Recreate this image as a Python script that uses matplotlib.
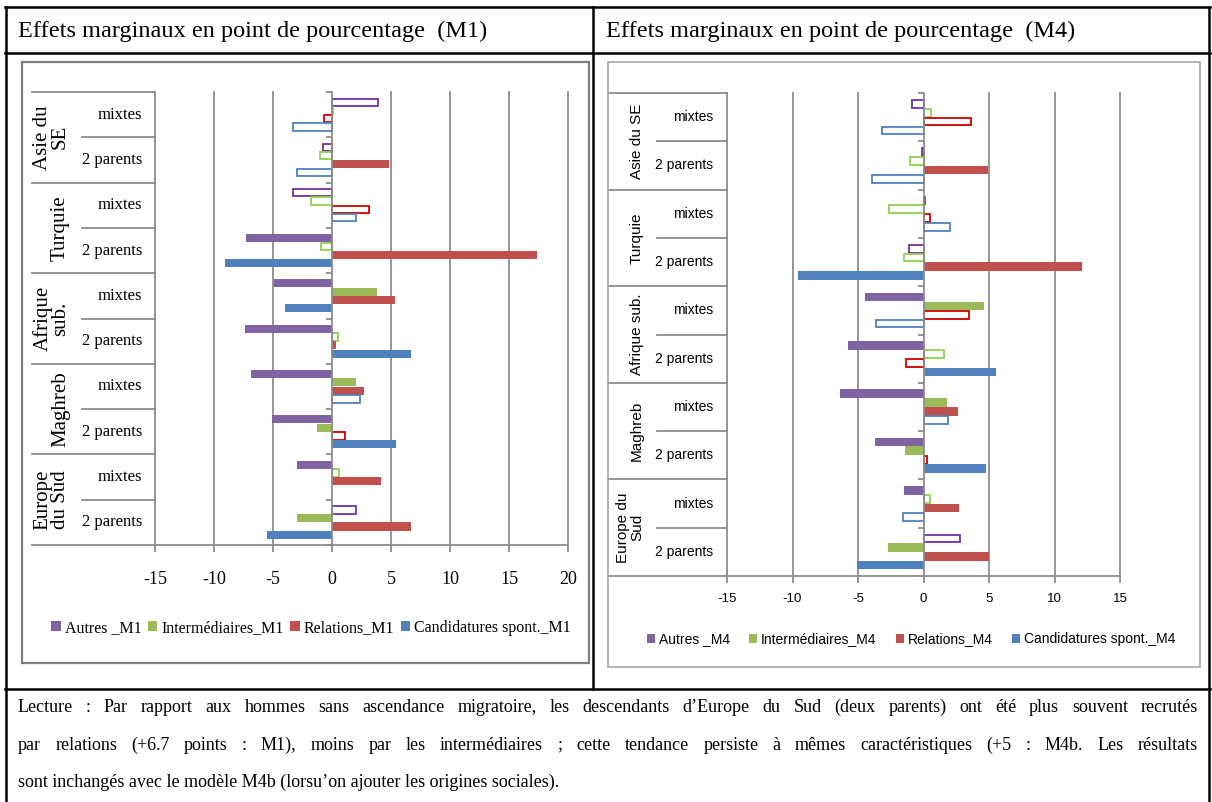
import matplotlib.pyplot as plt
import matplotlib.transforms as mtransforms
from matplotlib.patches import Patch, Rectangle
from matplotlib.lines import Line2D
import numpy as np

W, H = 1212, 802

# categories, top to bottom
subs = ['mixtes', '2 parents'] * 5
regions_m1 = ['Asie du\nSE', 'Turquie', 'Afrique\nsub.', 'Maghreb', 'Europe\ndu Sud']
regions_m4 = ['Asie du SE', 'Turquie', 'Afrique sub.', 'Maghreb', 'Europe du\nSud']

# M1 values (points de pourcentage) and significance (filled bar = True)
autres_m1 = [3.9, -0.8, -3.3, -7.3, -4.9, -7.4, -6.9, -5.1, -2.95, 2.05]
autres_m1_sig = [False, False, False, True, True, True, True, True, True, False]
interm_m1 = [0.1, -1.0, -1.8, -0.9, 3.8, 0.5, 2.0, -1.3, 0.6, -3.0]
interm_m1_sig = [False, False, False, False, True, False, True, True, False, True]
relations_m1 = [-0.7, 4.8, 3.1, 17.4, 5.3, 0.3, 2.7, 1.1, 4.15, 6.7]
relations_m1_sig = [False, True, False, True, True, True, True, False, True, True]
cand_m1 = [-3.3, -3.0, 2.0, -9.1, -4.0, 6.7, 2.4, 5.4, 0.0, -5.5]
cand_m1_sig = [False, False, False, True, True, True, False, True, True, True]

# M4 values
autres_m4 = [-0.9, -0.1, 0.1, -1.1, -4.5, -5.8, -6.4, -3.7, -1.5, 2.8]
autres_m4_sig = [False, False, False, False, True, True, True, True, True, False]
interm_m4 = [0.6, -1.0, -2.6, -1.5, 4.6, 1.6, 1.8, -1.4, 0.5, -2.7]
interm_m4_sig = [False, False, False, False, True, False, True, True, False, True]
relations_m4 = [3.6, 4.9, 0.5, 12.1, 3.5, -1.3, 2.6, 0.3, 2.7, 5.0]
relations_m4_sig = [False, True, False, True, False, False, True, False, True, True]
cand_m4 = [-3.2, -3.9, 2.0, -9.6, -3.6, 5.5, 1.9, 4.8, -1.6, -5.1]
cand_m4_sig = [False, False, False, True, False, True, False, True, False, True]

legend_m1 = ['Autres _M1', 'Intermédiaires_M1', 'Relations_M1', 'Candidatures spont._M1']
legend_m4 = ['Autres _M4', 'Intermédiaires_M4', 'Relations_M4', 'Candidatures spont._M4']

header_m1 = 'Effets marginaux en point de pourcentage  (M1)'
header_m4 = 'Effets marginaux en point de pourcentage  (M4)'
caption = [
    'Lecture : Par rapport aux hommes sans ascendance migratoire, les descendants d\u2019Europe du Sud '
    '(deux parents) ont été plus souvent recrutés',
    'par relations (+6.7 points : M1), moins par les intermédiaires ; cette tendance persiste à mêmes '
    'caractéristiques (+5 : M4b. Les résultats',
    'sont inchangés avec le modèle M4b (lorsu\u2019on ajouter les origines sociales).',
]

fill_colors = ['#8064A2', '#9BBB59', '#C0504D', '#4F81BD']
edge_colors = ['#7030A0', '#92D050', '#D00000', '#4F81BD']
GRID = '#8c8c8c'
SERIF = ['Liberation Serif', 'DejaVu Serif']
SANS = ['Liberation Sans', 'DejaVu Sans']


def fx(x):
    return x / W


def fy(y):
    return 1 - y / H


fig = plt.figure(figsize=(W / 100, H / 100), dpi=100)
fig.patch.set_facecolor('white')


def fig_line(xs, ys, **kw):
    fig.add_artist(Line2D([fx(x) for x in xs], [fy(y) for y in ys], **kw))


def draw_panel(box, xlim, series, sig, regions, legend_labels, legend_xy, font,
               fs_tick, fs_sub, fs_region, fs_legend, table, tick_pad, region_ls,
               colspacing):
    left, top, right, bottom = box
    ax = fig.add_axes([fx(left), fy(bottom), fx(right) - fx(left), (bottom - top) / H])
    ax.set_xlim(*xlim)
    ax.set_ylim(9.5, -0.5)
    ax.patch.set_alpha(0)

    ticks = list(range(xlim[0], xlim[1] + 1, 5))
    for t in ticks:
        if t != 0:
            ax.axvline(t, color=GRID, lw=1.3, zorder=1, clip_on=False)

    y = np.arange(10)
    offsets = [-0.275, -0.092, 0.092, 0.275]
    for k in range(4):
        vals = np.array(series[k])
        s = np.array(sig[k])
        ax.barh(y[s] + offsets[k], vals[s], height=0.18, color=fill_colors[k],
                linewidth=0, zorder=3)
        ax.barh(y[~s] + offsets[k], vals[~s], height=0.16, color='white',
                edgecolor=edge_colors[k], linewidth=1.3, zorder=3)

    for side in ['top', 'right']:
        ax.spines[side].set_visible(False)
    ax.spines['left'].set_position(('data', 0))
    ax.spines['left'].set_color(GRID)
    ax.spines['left'].set_linewidth(1.3)
    ax.spines['left'].set_zorder(4)
    ax.spines['bottom'].set_color(GRID)
    ax.spines['bottom'].set_linewidth(1.3)
    ax.set_yticks(np.arange(-0.5, 10, 1))
    ax.set_yticklabels([])
    ax.tick_params(axis='y', length=4, width=1.3, color=GRID, direction='out')
    ax.set_xticks(ticks)
    ax.set_xticklabels([str(t) for t in ticks])
    ax.tick_params(axis='x', length=5, width=1.3, color=GRID, direction='out',
                   pad=tick_pad, labelsize=fs_tick)
    for lab in ax.get_xticklabels():
        lab.set_family(font)

    # multi-level category labels
    blend = mtransforms.blended_transform_factory(fig.transFigure, ax.transData)
    x_out, x_mid, x_in, x_region, x_sub = table
    lk = dict(transform=blend, color=GRID, lw=1.3, clip_on=False)
    ax.plot([fx(x_out), fx(x_in)], [-0.5, -0.5], **lk)
    ax.plot([fx(x_out), fx(x_in)], [9.5, 9.5], **lk)
    for b in [1.5, 3.5, 5.5, 7.5]:
        ax.plot([fx(x_out), fx(x_in)], [b, b], **lk)
    for b in [0.5, 2.5, 4.5, 6.5, 8.5]:
        ax.plot([fx(x_mid), fx(x_in)], [b, b], **lk)
    for i, name in enumerate(subs):
        ax.text(fx(x_sub), i, name, transform=blend, ha='right', va='center',
                fontsize=fs_sub, family=font)
    for r, name in enumerate(regions):
        ax.text(fx(x_region), 2 * r + 0.5, name, transform=blend, ha='right',
                va='center', rotation=90, fontsize=fs_region, family=font,
                multialignment='center', linespacing=region_ls)

    handles = [Patch(facecolor=c, edgecolor='none') for c in fill_colors]
    fig.legend(handles, legend_labels, loc='center',
               bbox_to_anchor=(fx(legend_xy[0]), fy(legend_xy[1])), ncol=4,
               frameon=False, handlelength=0.6, handleheight=0.6, handletextpad=0.25,
               columnspacing=colspacing, borderaxespad=0,
               prop={'family': font, 'size': fs_legend})
    return ax


# chart frames
fig.add_artist(Rectangle((fx(22), fy(663)), fx(589) - fx(22), (663 - 62) / H,
                         transform=fig.transFigure, fill=False, edgecolor='#7f7f7f', lw=1.6))
fig.add_artist(Rectangle((fx(608), fy(667)), fx(1200) - fx(608), (667 - 62) / H,
                         transform=fig.transFigure, fill=False, edgecolor='#a6a6a6', lw=1.2))

draw_panel((155, 92, 568, 545), (-15, 20),
           [autres_m1, interm_m1, relations_m1, cand_m1],
           [autres_m1_sig, interm_m1_sig, relations_m1_sig, cand_m1_sig],
           regions_m1, legend_m1, (311, 628), SERIF,
           fs_tick=13, fs_sub=12, fs_region=15, fs_legend=11.5,
           table=(32, 82, 155, 70, 142), tick_pad=14, region_ls=0.9, colspacing=0.4)

draw_panel((727, 93, 1120, 576), (-15, 15),
           [autres_m4, interm_m4, relations_m4, cand_m4],
           [autres_m4_sig, interm_m4_sig, relations_m4_sig, cand_m4_sig],
           regions_m4, legend_m4, (911, 639), SANS,
           fs_tick=9.5, fs_sub=10, fs_region=11, fs_legend=10,
           table=(608, 657, 727, 644, 713), tick_pad=7, region_ls=1.0, colspacing=1.4)

# table borders
tk = dict(color='black', lw=1.8)
fig_line([5, 1210], [7, 7], **tk)
fig_line([5, 1210], [53, 53], **tk)
fig_line([5, 1210], [689, 689], **tk)
fig_line([6, 6], [7, 802], **tk)
fig_line([1209, 1209], [7, 802], **tk)
fig_line([593, 593], [7, 689], **tk)

fig.text(fx(18), fy(31), header_m1, fontsize=17.5, family=SERIF, va='center')
fig.text(fx(606), fy(31), header_m4, fontsize=17.5, family=SERIF, va='center')


def justify(line, x0, x1, y, fs):
    words = line.split(' ')
    renderer = fig.canvas.get_renderer()
    texts = [fig.text(0, fy(y), w, fontsize=fs, family=SERIF, va='center') for w in words]
    widths = [t.get_window_extent(renderer).width for t in texts]
    gap = (x1 - x0 - sum(widths)) / (len(words) - 1)
    x = x0
    for t, w in zip(texts, widths):
        t.set_x(fx(x))
        x += w + gap


justify(caption[0], 18, 1198, 707, 13)
justify(caption[1], 18, 1198, 745, 13)
fig.text(fx(18), fy(782), caption[2], fontsize=13, family=SERIF, va='center')

fig.savefig('out.png', dpi=100, facecolor='white')
